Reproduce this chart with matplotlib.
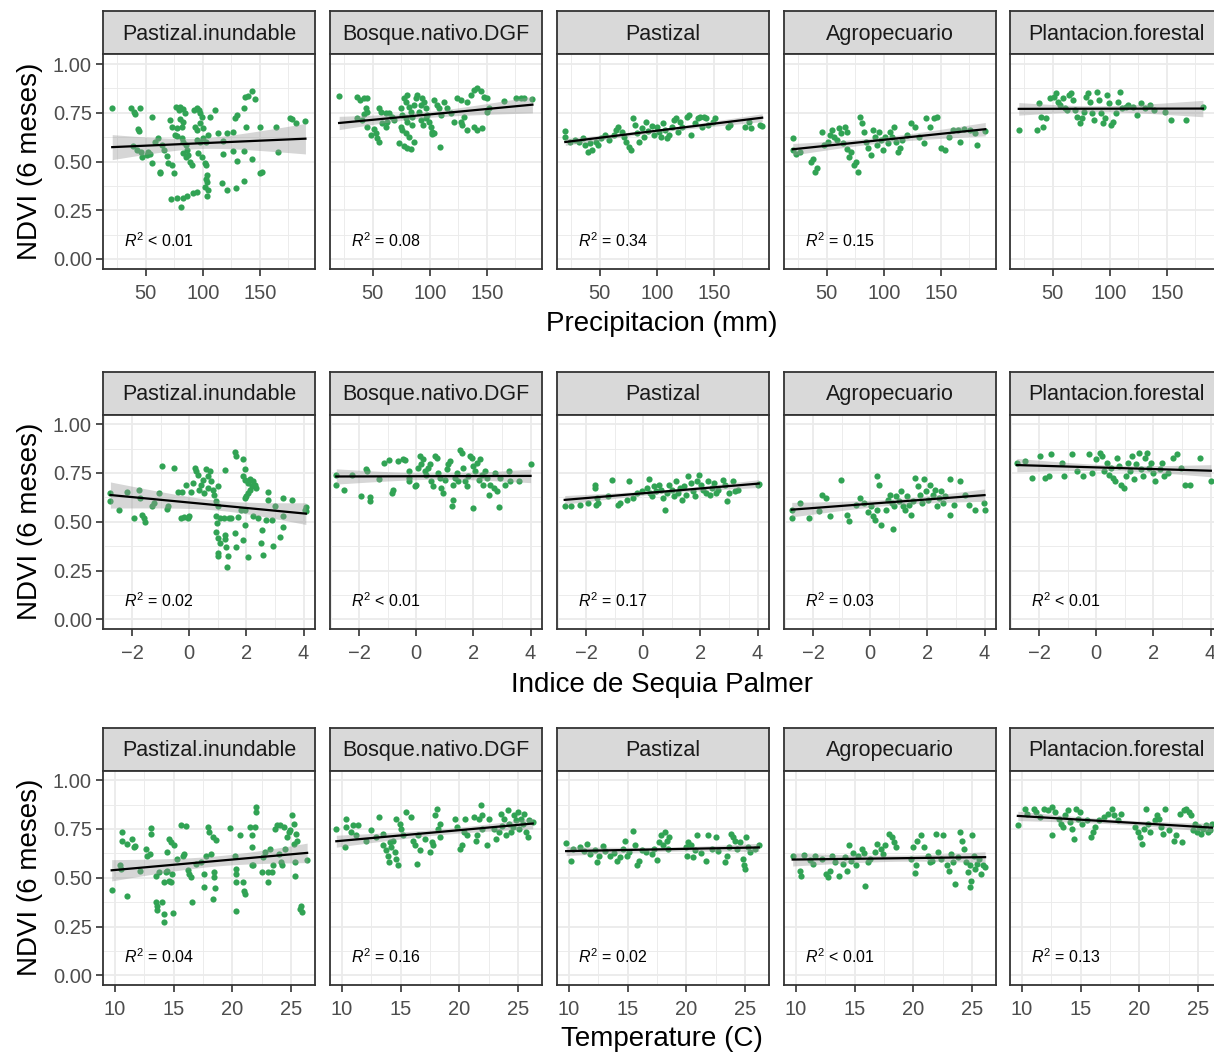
import numpy as np
import matplotlib
matplotlib.use('Agg')
import matplotlib.pyplot as plt

plt.rcParams['font.family'] = ['Liberation Sans', 'DejaVu Sans']
plt.rcParams['mathtext.fontset'] = 'custom'
plt.rcParams['mathtext.rm'] = 'Liberation Sans'
plt.rcParams['mathtext.it'] = 'Liberation Sans:italic'

W, H = 1214, 1053

coberturas = ['Pastizal.inundable', 'Bosque.nativo.DGF', 'Pastizal', 'Agropecuario', 'Plantacion.forestal']
x_titulos = ['Precipitacion (mm)', 'Indice de Sequia Palmer', 'Temperature (C)']
y_titulo = 'NDVI (6 meses)'
y_ticks = [0, 0.25, 0.5, 0.75, 1.0]
y_ticklabels = ['0.00', '0.25', '0.50', '0.75', '1.00']
x_ticks_pp = [50, 100, 150]
x_ticks_pdsi = [-2, 0, 2, 4]
x_ticks_temp = [10, 15, 20, 25]

r2_pp = ['< 0.01', '= 0.08', '= 0.34', '= 0.15', None]
r2_pdsi = ['= 0.02', '< 0.01', '= 0.17', '= 0.03', '< 0.01']
r2_temp = ['= 0.04', '= 0.16', '= 0.02', '< 0.01', '= 0.13']

# ---- precipitacion vs NDVI (x, y)
pp_inund = [(20.6,.776),(37.2,.773),(39.5,.756),(41.0,.742),(45.3,.773),(55.5,.730),(43.3,.667),(43.9,.656),(39.0,.581),(41.9,.559),
    (45.9,.550),(46.8,.525),(51.2,.533),(51.7,.550),(53.5,.540),(55.5,.491),(62.2,.448),(62.8,.439),(57.8,.598),(60.5,.622),
    (64.2,.585),(65.7,.559),(68.6,.530),(69.2,.491),(73.0,.482),(75.0,.439),(71.5,.713),(73.0,.679),(76.0,.636),(77.3,.670),
    (76.7,.781),(78.8,.764),(80.2,.781),(82.6,.769),(84.6,.747),(80.2,.720),(83.1,.704),(81.7,.679),(77.3,.629),(81.7,.619),
    (82.6,.598),(85.5,.585),(86.6,.559),(83.1,.542),(85.5,.525),(87.5,.533),(89.0,.499),(90.4,.482),(92.4,.764),(94.8,.773),
    (97.1,.764),(97.7,.747),(99.1,.730),(93.3,.679),(95.3,.662),(97.7,.696),(100.6,.670),(94.8,.610),(97.7,.602),(100.6,.619),
    (102.9,.598),(104.9,.636),(96.2,.542),(99.1,.525),(101.9,.491),(102.9,.482),(103.5,.431),(102.9,.410),(104.1,.397),(101.9,.371),
    (104.9,.354),(104.1,.325),(72.4,.308),(77.3,.315),(80.8,.268),(83.1,.315),(86.0,.325),(91.3,.337),(94.8,.342),(110.8,.764),
    (106.4,.730),(113.7,.644),(118.0,.605),(121.0,.644),(126.8,.650),(128.2,.721),(129.7,.738),(118.0,.537),(126.8,.554),(129.7,.503),
    (116.6,.388),(121.5,.354),(129.1,.366),(136.0,.400),(137.0,.832),(139.9,.838),(143.6,.862),(145.7,.821),(136.0,.773),(137.6,.679),
    (143.1,.513),(150.6,.679),(152.3,.448),(150.0,.439),(136.0,.554),(166.0,.550),(164.0,.679),(176.2,.725),(178.5,.716),(181.4,.696),
    (190.1,.708)]
pp_bosque = [(20.5,.838),(36.6,.832),(38.9,.815),(42.4,.824),(45.3,.827),(43.9,.773),(45.3,.756),(42.4,.742),(55.6,.773),(57.0,.756),
    (61.4,.747),(36.6,.721),(40.9,.713),(45.3,.679),(51.2,.667),(52.6,.644),(48.2,.636),(54.1,.619),(55.6,.602),(58.5,.696),
    (61.4,.679),(62.9,.704),(64.3,.747),(67.3,.730),(68.7,.713),(73.1,.593),(77.5,.581),(80.4,.571),(83.3,.564),(86.3,.598),
    (74.6,.679),(76.0,.662),(78.9,.645),(81.9,.627),(84.8,.687),(77.5,.824),(78.9,.807),(80.4,.841),(81.9,.781),(83.3,.756),
    (86.3,.790),(87.7,.824),(89.2,.841),(74.6,.773),(76.0,.738),(78.9,.721),(80.4,.704),(84.8,.730),(90.7,.756),(92.1,.790),
    (93.6,.824),(95.0,.807),(96.5,.773),(97.9,.738),(99.4,.704),(100.9,.679),(102.3,.653),(92.1,.713),(94.4,.687),(96.5,.721),
    (103.8,.815),(106.1,.790),(108.2,.773),(109.6,.738),(112.6,.807),(115.5,.773),(118.4,.747),(109.1,.576),(103.8,.644),(102.3,.639),
    (121.3,.704),(124.3,.827),(127.2,.815),(130.1,.730),(133.0,.807),(136.0,.841),(138.9,.867),(141.8,.876),(144.8,.859),(147.7,.832),
    (150.6,.824),(127.2,.704),(128.7,.687),(133.0,.662),(138.9,.679),(141.8,.662),(146.2,.674),(150.6,.756),(152.0,.773),(165.2,.810),
    (175.4,.827),(179.8,.827),(182.7,.827),(190.1,.821)]
pp_past = [(19.8,.656),(19.8,.627),(24.3,.598),(28.1,.610),(31.9,.598),(35.6,.619),(37.5,.585),(41.3,.593),(39.4,.550),(43.2,.559),
    (47.0,.602),(48.9,.585),(50.8,.619),(54.5,.636),(58.3,.610),(62.1,.636),(64.0,.662),(65.9,.679),(69.7,.653),(71.5,.627),
    (73.4,.602),(75.3,.576),(77.2,.559),(79.1,.721),(81.0,.687),(82.9,.645),(84.8,.602),(86.7,.670),(88.6,.627),(90.4,.701),
    (92.3,.658),(96.1,.684),(98.0,.636),(99.9,.679),(101.8,.653),(103.7,.627),(105.6,.696),(107.5,.662),(109.4,.619),(111.2,.636),
    (113.1,.679),(115.0,.713),(116.9,.721),(118.8,.653),(120.7,.704),(122.6,.679),(126.4,.730),(128.2,.738),(130.1,.636),(133.9,.696),
    (135.8,.721),(137.7,.730),(139.6,.679),(141.5,.730),(143.4,.721),(145.3,.687),(149.0,.704),(150.9,.721),(162.3,.679),(164.2,.687),
    (177.4,.679),(181.2,.704),(183.1,.670),(190.6,.687),(192.5,.684)]
pp_agro = [(20.2,.619),(20.2,.559),(23.1,.537),(26.9,.550),(36.2,.497),(38.1,.515),(39.9,.448),(41.8,.465),(45.5,.653),(47.4,.585),
    (51.1,.602),(53.0,.636),(54.9,.662),(56.7,.627),(58.6,.610),(60.4,.670),(62.3,.645),(64.2,.593),(66.0,.679),(67.9,.653),
    (67.9,.566),(69.8,.523),(71.6,.550),(73.5,.480),(75.4,.497),(77.2,.448),(79.1,.730),(81.0,.696),(82.8,.653),(84.7,.602),
    (86.6,.568),(88.4,.533),(90.3,.662),(92.2,.627),(94.0,.585),(95.9,.653),(97.8,.610),(99.6,.559),(101.5,.627),(103.4,.593),
    (105.2,.653),(107.1,.627),(109.0,.679),(110.8,.602),(112.7,.550),(114.5,.568),(116.4,.610),(120.1,.636),(123.9,.696),(127.6,.679),
    (131.3,.627),(135.1,.593),(136.9,.721),(140.7,.679),(144.4,.721),(146.3,.730),(150.0,.568),(153.7,.559),(157.5,.627),(166.8,.598),
    (181.7,.585),(164.9,.662),(161.2,.662),(170.5,.667),(176.1,.662),(179.8,.644),(189.1,.656)]
pp_plant = [(20.2,.662),(36.2,.662),(41.8,.679),(43.7,.721),(40.0,.730),(38.1,.798),(47.4,.824),(51.1,.832),(53.0,.850),(54.8,.807),
    (56.7,.790),(58.6,.824),(60.4,.773),(62.3,.764),(64.2,.841),(66.0,.850),(67.9,.815),(69.8,.764),(71.6,.730),(73.5,.696),
    (75.4,.721),(77.3,.756),(79.1,.832),(81.0,.850),(82.8,.807),(84.7,.747),(86.6,.713),(88.4,.858),(90.3,.815),(92.2,.747),
    (94.0,.696),(95.9,.721),(97.7,.841),(99.6,.798),(101.5,.687),(103.3,.704),(105.2,.747),(107.1,.807),(108.9,.858),(110.8,.773),
    (114.5,.782),(116.4,.790),(120.1,.782),(123.9,.738),(127.6,.798),(131.3,.773),(135.1,.790),(138.8,.764),(148.1,.756),(153.7,.713),
    (166.8,.713),(181.7,.782)]

# ---- indice de sequia Palmer vs NDVI
pdsi_inund = [(-2.76,.648),(-2.76,.605),(-2.47,.562),(-2.18,.651),(-1.94,.519),(-1.76,.665),(-1.71,.622),(-1.65,.536),(-1.59,.519),(-1.56,.497),
    (-1.29,.579),(-1.24,.597),(-1.06,.645),(-0.94,.785),(-0.79,.567),(-0.76,.579),(-0.55,.777),(-0.41,.653),(-0.29,.520),(-0.24,.655),
    (-0.18,.526),(-0.12,.689),(-0.04,.517),(0.0,.529),(0.06,.655),(0.12,.698),(0.20,.777),(0.24,.760),(0.29,.742),(0.35,.665),
    (0.41,.691),(0.47,.716),(0.53,.648),(0.59,.768),(0.65,.734),(0.67,.674),(0.71,.760),(0.76,.708),(0.82,.665),(0.88,.639),
    (0.94,.605),(1.0,.682),(1.02,.579),(0.94,.527),(0.98,.493),(0.94,.450),(1.0,.416),(1.06,.390),(1.0,.339),(1.0,.325),
    (1.09,.519),(1.21,.519),(1.26,.431),(1.26,.411),(1.29,.368),(1.35,.325),(1.32,.270),(1.38,.519),(1.47,.519),(1.59,.442),
    (1.62,.370),(1.71,.524),(1.82,.562),(1.88,.408),(1.26,.765),(1.59,.857),(1.62,.837),(1.88,.820),(1.96,.768),(1.88,.734),
    (1.96,.716),(2.06,.699),(2.12,.720),(2.18,.682),(2.24,.708),(2.29,.691),(2.35,.674),(1.94,.622),(2.0,.630),(2.06,.648),
    (2.12,.665),(1.94,.485),(1.96,.562),(2.06,.321),(2.24,.527),(2.41,.519),(2.51,.390),(2.53,.459),(2.59,.330),(2.67,.510),
    (2.76,.613),(2.76,.655),(2.91,.510),(2.94,.376),(3.0,.579),(3.18,.420),(3.29,.474),(3.29,.531),(3.29,.622),(3.59,.610),
    (4.08,.576),(4.08,.553),(4.06,.562)]
pdsi_bosque = [(-2.80,.742),(-2.80,.691),(-2.53,.662),(-2.24,.742),(-1.94,.631),(-1.76,.768),(-1.71,.760),(-1.62,.627),(-1.62,.605),(-1.29,.718),
    (-1.12,.802),(-0.94,.815),(-0.82,.662),(-0.85,.649),(-0.65,.811),(-0.47,.820),(-0.41,.817),(-0.26,.760),(-0.26,.725),(-0.24,.708),
    (-0.06,.682),(0.0,.691),(0.06,.777),(0.12,.837),(0.18,.794),(0.24,.820),(0.29,.760),(0.35,.742),(0.41,.777),(0.47,.794),
    (0.53,.708),(0.59,.682),(0.65,.837),(0.71,.828),(0.76,.751),(0.82,.725),(0.88,.674),(0.94,.648),(1.0,.716),(1.06,.768),
    (1.12,.794),(1.18,.811),(1.24,.579),(1.27,.613),(1.29,.691),(1.35,.725),(1.41,.751),(1.47,.708),(1.53,.870),(1.59,.854),
    (1.65,.777),(1.71,.708),(1.76,.682),(1.82,.734),(1.88,.837),(1.94,.828),(2.0,.785),(2.06,.760),(2.0,.570),(2.12,.802),
    (2.18,.716),(2.24,.820),(2.29,.742),(2.35,.691),(2.41,.760),(2.47,.725),(2.53,.639),(2.59,.691),(2.71,.674),(2.76,.751),
    (2.82,.656),(2.88,.576),(2.94,.725),(3.12,.691),(3.24,.760),(3.29,.708),(3.59,.708),(4.0,.794)]
pdsi_past = [(-2.75,.579),(-2.52,.582),(-2.22,.588),(-1.93,.596),(-1.70,.690),(-1.70,.673),(-1.66,.588),(-1.60,.596),(-1.63,.622),(-1.25,.630),
    (-1.10,.713),(-0.88,.588),(-0.81,.596),(-0.58,.613),(-0.51,.707),(-0.36,.622),(-0.21,.647),(-0.06,.656),(0.13,.674),(0.19,.717),
    (0.24,.648),(0.31,.631),(0.39,.682),(0.46,.656),(0.54,.691),(0.61,.665),(0.69,.622),(0.76,.562),(0.84,.648),(0.91,.691),
    (0.99,.665),(1.06,.631),(1.13,.708),(1.21,.648),(1.28,.674),(1.36,.613),(1.43,.682),(1.51,.639),(1.58,.734),(1.66,.699),
    (1.73,.656),(1.81,.631),(1.88,.708),(1.96,.742),(2.03,.691),(2.10,.665),(2.18,.648),(2.25,.708),(2.33,.639),(2.40,.674),
    (2.48,.699),(2.55,.648),(2.63,.665),(2.78,.713),(2.85,.691),(2.93,.605),(3.0,.648),(3.15,.708),(3.22,.656),(3.30,.665),
    (4.01,.691),(4.04,.696)]
pdsi_agro = [(-2.75,.562),(-2.75,.519),(-2.45,.596),(-2.15,.519),(-1.78,.553),(-1.70,.639),(-1.55,.622),(-1.40,.527),(-1.03,.713),(-0.81,.536),
    (-0.73,.502),(-0.51,.588),(-0.36,.622),(-0.21,.596),(-0.09,.548),(0.01,.579),(0.09,.527),(0.16,.510),(0.24,.734),(0.31,.691),
    (0.24,.562),(0.39,.485),(0.54,.562),(0.61,.613),(0.69,.639),(0.76,.596),(0.81,.462),(0.84,.579),(0.91,.631),(0.99,.605),
    (1.06,.656),(1.13,.579),(1.21,.562),(1.28,.631),(1.36,.588),(1.43,.536),(1.51,.605),(1.58,.725),(1.66,.682),(1.73,.639),
    (1.81,.596),(1.88,.717),(1.96,.656),(2.03,.613),(2.10,.691),(2.18,.639),(2.25,.665),(2.33,.579),(2.40,.622),(2.48,.656),
    (2.55,.596),(2.63,.631),(2.78,.717),(2.78,.536),(2.93,.588),(3.15,.708),(3.30,.639),(3.45,.588),(3.67,.562),(3.97,.596),
    (4.0,.562)]
pdsi_plant = [(-2.78,.802),(-2.48,.811),(-2.25,.725),(-1.96,.837),(-1.81,.725),(-1.66,.734),(-1.58,.845),(-1.21,.802),(-1.13,.734),(-0.84,.845),
    (-0.69,.760),(-0.46,.734),(-0.24,.845),(-0.16,.751),(0.0,.820),(0.13,.854),(0.21,.837),(0.28,.760),(0.36,.802),(0.43,.742),
    (0.51,.777),(0.58,.725),(0.66,.708),(0.73,.828),(0.81,.785),(0.88,.691),(0.96,.674),(1.03,.734),(1.10,.802),(1.18,.760),
    (1.25,.837),(1.33,.717),(1.40,.794),(1.48,.854),(1.55,.768),(1.63,.734),(1.70,.828),(1.78,.854),(1.85,.777),(1.93,.802),
    (2.0,.751),(2.07,.708),(2.22,.768),(2.30,.802),(2.37,.734),(2.52,.751),(2.67,.828),(2.82,.845),(2.97,.777),(3.12,.691),
    (3.27,.691),(3.64,.828),(4.01,.708)]

# ---- temperatura vs NDVI
temp_inund = [(9.71,.439),(10.43,.566),(10.49,.545),(10.57,.734),(10.57,.691),(11.0,.674),(11.0,.405),(11.44,.700),(11.58,.657),(11.72,.662),
    (12.1,.537),(12.67,.648),(12.73,.614),(13.0,.623),(13.08,.755),(13.08,.726),(13.45,.511),(13.53,.374),(13.59,.357),(13.59,.336),
    (13.74,.528),(14.02,.374),(14.17,.314),(14.17,.271),(14.17,.477),(14.31,.528),(14.45,.537),(14.45,.631),(14.6,.700),(14.6,.485),
    (14.74,.683),(14.74,.477),(14.89,.520),(14.97,.319),(15.03,.666),(15.32,.597),(15.6,.768),(15.83,.614),(15.89,.623),(16.03,.763),
    (16.18,.542),(16.32,.520),(16.47,.503),(16.52,.377),(16.9,.571),(17.33,.580),(17.61,.520),(17.61,.451),(17.76,.614),(17.9,.760),
    (18.05,.734),(18.33,.708),(18.42,.528),(18.42,.503),(18.33,.391),(18.48,.446),(18.62,.696),(18.19,.623),(19.77,.755),(20.2,.614),
    (20.34,.545),(20.34,.520),(20.34,.480),(20.34,.328),(20.63,.717),(20.92,.480),(21.0,.434),(21.06,.417),(21.49,.760),(21.64,.717),
    (21.64,.657),(21.64,.566),(21.78,.563),(21.93,.760),(21.98,.863),(21.98,.837),(22.5,.528),(22.64,.606),(22.79,.631),(23.07,.528),
    (23.07,.477),(23.22,.648),(23.36,.528),(23.5,.563),(23.65,.751),(23.79,.772),(23.94,.623),(24.08,.768),(24.17,.580),(24.22,.563),
    (24.37,.760),(24.51,.648),(24.66,.708),(24.8,.734),(24.94,.743),(25.09,.820),(25.23,.777),(25.23,.674),(25.32,.511),(25.37,.580),
    (25.43,.726),(25.52,.691),(25.8,.340),(25.89,.357),(25.95,.326),(26.38,.593)]
temp_bosque = [(9.51,.751),(10.32,.803),(10.37,.760),(10.26,.657),(10.75,.734),(10.89,.768),(11.18,.717),(11.32,.768),(12.04,.691),(12.47,.743),
    (12.9,.708),(13.13,.811),(13.48,.726),(13.53,.666),(13.71,.640),(13.91,.614),(13.99,.580),(14.05,.683),(14.2,.657),(14.34,.691),
    (14.48,.631),(14.57,.803),(14.63,.597),(14.77,.563),(14.91,.777),(15.06,.751),(15.2,.717),(15.49,.837),(15.92,.811),(16.06,.691),
    (16.21,.666),(16.35,.571),(16.49,.717),(16.64,.640),(17.07,.700),(17.5,.631),(17.64,.683),(17.79,.666),(17.93,.820),(18.07,.854),
    (18.22,.751),(18.36,.777),(18.36,.708),(19.66,.803),(19.8,.760),(20.09,.648),(20.23,.666),(20.37,.734),(20.52,.803),(20.66,.717),
    (21.24,.811),(21.38,.691),(21.52,.717),(21.67,.803),(21.81,.871),(21.95,.751),(21.95,.820),(22.39,.666),(22.53,.803),(22.96,.751),
    (23.1,.700),(23.39,.734),(23.53,.828),(23.68,.763),(23.82,.803),(23.97,.717),(24.11,.846),(24.25,.777),(24.4,.734),(24.54,.760),
    (24.68,.820),(24.83,.794),(24.97,.837),(25.11,.751),(25.26,.803),(25.4,.777),(25.55,.828),(25.69,.734),(25.83,.708),(25.98,.794),
    (26.26,.786)]
temp_past = [(9.75,.679),(10.18,.588),(10.36,.648),(10.91,.657),(11.27,.635),(11.56,.674),(11.82,.623),(12.18,.640),(12.36,.580),(12.55,.614),
    (12.91,.662),(13.09,.635),(13.45,.614),(13.82,.628),(14.11,.588),(14.36,.605),(14.62,.648),(14.73,.691),(14.91,.614),(15.09,.631),
    (15.45,.738),(15.64,.666),(15.82,.563),(16.0,.588),(16.18,.640),(16.55,.631),(17.09,.623),(17.27,.648),(17.53,.593),(17.64,.683),
    (17.82,.717),(18.0,.666),(18.18,.734),(18.36,.691),(18.47,.648),(18.55,.708),(19.93,.657),(20.07,.614),(20.18,.683),(20.36,.666),
    (20.55,.605),(20.73,.640),(20.91,.717),(21.27,.628),(21.64,.588),(21.82,.717),(22.18,.648),(22.55,.708),(22.73,.635),(23.27,.580),
    (23.45,.614),(23.64,.657),(23.82,.726),(24.0,.708),(24.18,.691),(24.36,.648),(24.55,.683),(24.8,.597),(24.91,.563),(25.02,.545),
    (25.09,.708),(25.27,.657),(25.45,.631),(25.82,.648),(26.18,.669)]
temp_agro = [(9.71,.614),(10.36,.537),(10.43,.511),(10.65,.618),(11.16,.593),(11.45,.571),(11.63,.614),(12.17,.597),(12.54,.520),(12.72,.503),
    (12.9,.537),(13.08,.614),(13.33,.580),(13.62,.511),(13.99,.571),(14.17,.605),(14.35,.537),(14.53,.666),(14.71,.588),(14.89,.628),
    (15.07,.563),(15.25,.614),(15.62,.645),(15.8,.628),(15.87,.460),(16.16,.580),(16.34,.597),(16.7,.631),(16.88,.674),(17.25,.648),
    (17.43,.623),(17.61,.666),(17.9,.726),(18.15,.708),(18.33,.683),(18.51,.657),(19.78,.597),(19.96,.657),(20.14,.525),(20.22,.563),
    (20.33,.691),(20.69,.717),(20.87,.657),(21.23,.614),(21.41,.580),(21.59,.588),(21.96,.726),(22.14,.631),(22.32,.597),(22.5,.717),
    (22.86,.563),(23.04,.537),(23.22,.623),(23.41,.580),(23.59,.468),(23.77,.605),(23.95,.734),(24.13,.691),(24.31,.648),(24.49,.580),
    (24.67,.528),(24.86,.563),(24.96,.485),(25.04,.717),(25.14,.614),(25.22,.545),(25.4,.571),(25.58,.597),(25.76,.520),(25.94,.563),
    (26.12,.554),(24.86,.451)]
temp_plant = [(9.64,.768),(10.25,.854),(10.43,.828),(10.98,.854),(11.16,.837),(11.52,.811),(11.88,.854),(12.25,.846),(12.54,.863),(12.54,.717),
    (12.79,.837),(13.15,.803),(13.33,.777),(13.51,.760),(13.7,.820),(13.88,.846),(14.06,.786),(14.24,.751),(14.42,.700),(14.6,.854),
    (14.78,.803),(14.96,.837),(15.14,.777),(15.51,.794),(15.87,.708),(16.05,.734),(16.23,.760),(16.59,.794),(16.96,.811),(17.32,.828),
    (17.68,.854),(17.86,.820),(18.22,.794),(18.41,.828),(19.67,.760),(19.86,.734),(20.04,.708),(20.22,.674),(20.4,.751),(20.58,.854),
    (20.76,.777),(20.94,.734),(21.3,.794),(21.49,.820),(21.67,.803),(21.85,.760),(22.03,.726),(22.21,.854),(22.57,.743),(22.93,.691),
    (23.12,.717),(23.48,.828),(23.66,.683),(23.84,.846),(24.02,.854),(24.2,.837),(24.38,.820),(24.57,.743),(24.75,.777),(24.93,.734),
    (25.11,.760),(25.29,.726),(25.47,.751),(25.65,.768),(25.83,.734),(26.01,.743),(26.2,.777)]

filas = [
    (x_titulos[0], [pp_inund, pp_bosque, pp_past, pp_agro, pp_plant], r2_pp, x_ticks_pp, (12.5, 198.5), [25, 75, 125, 175]),
    (x_titulos[1], [pdsi_inund, pdsi_bosque, pdsi_past, pdsi_agro, pdsi_plant], r2_pdsi, x_ticks_pdsi, (-3.02, 4.4), [-3, -1, 1, 3]),
    (x_titulos[2], [temp_inund, temp_bosque, temp_past, temp_agro, temp_plant], r2_temp, x_ticks_temp, (8.97, 27.05), [12.5, 17.5, 22.5]),
]

verde = '#31A354'
borde = '#333333'

# panel geometry in pixels
lefts = [103, 330, 557, 784, 1010]
pw, ph, sh = 212, 214.5, 43
tops = [54.25, 414.5, 770.5]
xt_y = [324, 685, 1039]

fig = plt.figure(figsize=(W / 100, H / 100), dpi=100)


def add_ax(left, top, w, h):
    return fig.add_axes([left / W, 1 - (top + h) / H, w / W, h / H])


def ajuste(x, y):
    b1, b0 = np.polyfit(x, y, 1)
    xs = np.linspace(x.min(), x.max(), 80)
    n = len(x)
    res = y - (b0 + b1 * x)
    s = np.sqrt(np.sum(res ** 2) / (n - 2))
    se = s * np.sqrt(1 / n + (xs - x.mean()) ** 2 / np.sum((x - x.mean()) ** 2))
    return xs, b0 + b1 * xs, 1.98 * se


for r, (xtit, datos, r2s, xticks, xlim, xminor) in enumerate(filas):
    top = tops[r]
    for c in range(5):
        # strip
        st = add_ax(lefts[c], top - sh, pw, sh)
        st.set_facecolor('#D9D9D9')
        st.set_xticks([])
        st.set_yticks([])
        for sp in st.spines.values():
            sp.set_color(borde)
            sp.set_linewidth(1.3)
        st.text(0.5, 0.47, coberturas[c], ha='center', va='center', fontsize=15.5, color='#1A1A1A', transform=st.transAxes)

        ax = add_ax(lefts[c], top, pw, ph)
        pts = np.array(datos[c])
        x, y = pts[:, 0], pts[:, 1]
        ax.scatter(x, y, s=20, color=verde, linewidths=0, zorder=2)
        xs, fit, ci = ajuste(x, y)
        ax.fill_between(xs, fit - ci, fit + ci, color='#999999', alpha=0.4, linewidth=0, zorder=3)
        ax.plot(xs, fit, color='black', lw=1.6, zorder=4)

        ax.set_xlim(*xlim)
        ax.set_ylim(-0.05, 1.05)
        ax.set_xticks(xticks)
        ax.set_xticks(xminor, minor=True)
        ax.set_yticks(y_ticks)
        ax.set_yticks([0.125, 0.375, 0.625, 0.875], minor=True)
        ax.grid(which='major', color='#EBEBEB', lw=1.3)
        ax.grid(which='minor', color='#EBEBEB', lw=0.65)
        ax.set_axisbelow(True)
        for sp in ax.spines.values():
            sp.set_color(borde)
            sp.set_linewidth(1.3)
        ax.tick_params(axis='x', which='major', length=5, width=1.2, color=borde,
                       labelcolor='#4D4D4D', labelsize=14.5, pad=6)
        ax.tick_params(which='minor', length=0)
        if c == 0:
            ax.set_yticklabels(y_ticklabels)
            ax.tick_params(axis='y', which='major', length=5, width=1.2, color=borde,
                           labelcolor='#4D4D4D', labelsize=14.5, pad=3)
        else:
            ax.tick_params(axis='y', which='major', length=0, labelleft=False)

        if r2s[c] is not None:
            ax.text(0.1, 0.13, r'$R^2$' + ' ' + r2s[c], transform=ax.transAxes,
                    fontsize=11.5, va='center', ha='left', color='black')

    fig.text(662 / W, 1 - xt_y[r] / H, xtit, ha='center', va='center', fontsize=20)
    fig.text(30 / W, 1 - (top + ph / 2) / H, y_titulo, ha='center', va='center', rotation=90, fontsize=20)

fig.savefig('out.png', dpi=100)
